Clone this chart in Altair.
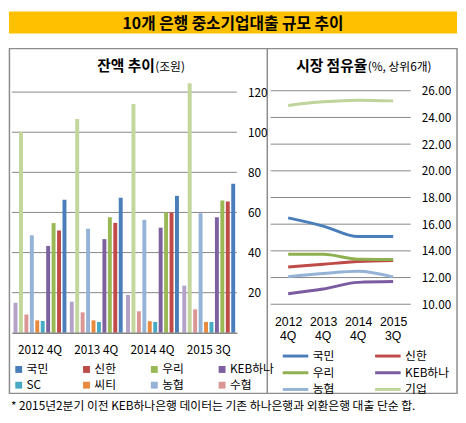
import altair as alt
import pandas as pd

# ---------------- data ----------------
periods = ["2012 4Q", "2013 4Q", "2014 4Q", "2015 3Q"]

# 잔액 추이 (조원)
kb = [66.3, 67.3, 68.3, 74.3]        # 국민
shinhan = [51.0, 54.8, 60.0, 65.4]   # 신한
woori = [54.7, 57.6, 60.0, 65.9]     # 우리
keb_hana = [43.3, 46.7, 52.4, 57.6]  # KEB하나
sc = [5.9, 5.4, 5.4, 5.4]            # SC
citi = [6.2, 6.2, 5.8, 5.4]          # 씨티
nh = [48.6, 51.9, 56.3, 59.6]        # 농협
suhyup = [9.1, 10.2, 10.7, 11.7]     # 수협
ibk = [100.2, 106.6, 114.1, 124.4]   # 기업
kdb = [15.0, 15.5, 18.9, 23.5]       # 산업

bar_banks = ["국민", "신한", "우리", "KEB하나", "SC", "씨티", "농협", "수협", "기업", "산업"]
bar_series = [kb, shinhan, woori, keb_hana, sc, citi, nh, suhyup, ibk, kdb]
bar_colors = ["#4A7EBB", "#BE4B48", "#98B954", "#7D60A0", "#46AAC5", "#E9893E",
              "#95B3D7", "#D99694", "#C3D69B", "#B3A2C7"]
legend_banks = bar_banks[:8]
bar_order = list(reversed(bar_banks))
bar_ticks = [20, 40, 60, 80, 100, 120]

# 시장 점유율 (%, 상위6개)
share_banks = ["국민", "신한", "우리", "KEB하나", "농협", "기업"]
kb_share = [16.47, 15.86, 15.07, 15.07]
shinhan_share = [12.79, 13.00, 13.20, 13.28]
woori_share = [13.74, 13.74, 13.37, 13.35]
hana_share = [10.79, 11.14, 11.64, 11.70]
nh_share = [12.07, 12.30, 12.47, 12.05]
ibk_share = [24.90, 25.17, 25.29, 25.24]
share_series = [kb_share, shinhan_share, woori_share, hana_share, nh_share, ibk_share]
share_colors = ["#4A7EBB", "#BE4B48", "#8FB050", "#7A5BA0", "#95B3D7", "#BFD49A"]
share_ticks = [10, 12, 14, 16, 18, 20, 22, 24, 26]

title_text = "10개 은행 중소기업대출 규모 추이"
footnote = "* 2015년2분기 이전 KEB하나은행 데이터는 기존 하나은행과 외환은행 대출 단순 합."

# ---------------- layout helpers ----------------
W, H = 458, 414
SX, SY = W / 466, H / 423
def X(v):
    return round(v * SX, 2)
def Y(v):
    return round(v * SY, 2)

FONT = "Noto Sans CJK KR"
NUMFONT = "Liberation Sans"
GRID = "#868686"

bar_df = pd.DataFrame([
    {"period": p, "bank": b, "value": s[i]}
    for b, s in zip(bar_banks, bar_series) for i, p in enumerate(periods)
])
share_df = pd.DataFrame([
    {"period": p, "bank": b, "share": s[i]}
    for b, s in zip(share_banks, share_series) for i, p in enumerate(periods)
])
period_df = pd.DataFrame({"period": periods})
one = pd.DataFrame({"k": [0]})

# ---------------- bar panel ----------------
bar_y_scale = alt.Scale(domain=[0, 120], range=[Y(334), Y(83.7)], nice=False, zero=True)
bar_y_axis = alt.Axis(orient="right", offset=X(237) - W, values=bar_ticks, domain=False,
                      ticks=False, tickSize=0, grid=False, labelPadding=X(248) - X(237),
                      labelFontSize=12, labelFont=FONT, labelColor="black", title=None,
                      labelOverlap=False, labelAlign="left", zindex=2)

bar_grid = alt.Chart(pd.DataFrame({"g": bar_ticks})).mark_rule(color=GRID, strokeWidth=1).encode(
    y=alt.Y("g:Q", scale=bar_y_scale, axis=bar_y_axis),
    x=alt.value(X(4)), x2=alt.value(X(237)),
)

bars = alt.Chart(bar_df).mark_bar().encode(
    x=alt.X("period:N", sort=periods,
            scale=alt.Scale(domain=periods, range=[X(4), X(237)], paddingInner=0.06, paddingOuter=0.03),
            axis=alt.Axis(orient="bottom", offset=Y(334) - H, domain=True, domainColor=GRID,
                          domainWidth=1.5, ticks=False, tickSize=0, grid=False, labelAngle=0,
                          labelPadding=Y(346) - Y(334), labelFontSize=12, labelFont=FONT,
                          labelColor="black", title=None, labelOverlap=False, zindex=2)),
    xOffset=alt.XOffset("bank:N", scale=alt.Scale(domain=bar_order, paddingInner=0.28)),
    y=alt.Y("value:Q", scale=bar_y_scale, axis=bar_y_axis),
    color=alt.Color("bank:N", scale=alt.Scale(domain=bar_banks, range=bar_colors),
                    legend=alt.Legend(values=legend_banks, orient="none", legendX=X(5), legendY=Y(366),
                                      direction="horizontal", columns=4, symbolType="square",
                                      symbolSize=49, symbolStrokeWidth=0, labelFontSize=12,
                                      labelFont=FONT, labelColor="black", labelOffset=2,
                                      columnPadding=32, rowPadding=4, title=None, padding=0)),
)
bar_panel = alt.layer(bar_grid, bars)

# ---------------- line panel ----------------
share_y_scale = alt.Scale(domain=[10, 26], range=[Y(304.3), Y(82.3)], nice=False, zero=False)
share_y_axis = alt.Axis(orient="right", offset=X(417) - W, values=share_ticks, format=".2f",
                        domain=False, ticks=False, tickSize=0, grid=False,
                        labelPadding=X(428) - X(417), labelFontSize=12, labelFont=FONT,
                        labelColor="black", title=None, labelOverlap=False, labelAlign="left",
                        zindex=2)
share_x_scale = alt.Scale(type="point", domain=periods, range=[X(272), X(417)], padding=0.5)
share_x_axis = alt.Axis(orient="bottom", offset=Y(307) - H, domain=False, ticks=False, tickSize=0,
                        grid=False, labelAngle=0, labelPadding=Y(316) - Y(307),
                        labelExpr="split(datum.label, ' ')[0]", labelFontSize=12.5,
                        labelFont=NUMFONT, labelColor="black", title=None,
                        labelOverlap=False, zindex=2)

share_grid = alt.Chart(pd.DataFrame({"g": share_ticks})).mark_rule(color=GRID, strokeWidth=1).encode(
    y=alt.Y("g:Q", scale=share_y_scale, axis=share_y_axis),
    x=alt.value(X(272)), x2=alt.value(X(417)),
)

lines = alt.Chart(share_df).mark_line(strokeWidth=3, interpolate="monotone").encode(
    x=alt.X("period:N", sort=periods, scale=share_x_scale, axis=share_x_axis),
    y=alt.Y("share:Q", scale=share_y_scale, axis=share_y_axis),
    color=alt.Color("bank:N", sort=share_banks,
                    scale=alt.Scale(domain=share_banks, range=share_colors),
                    legend=alt.Legend(orient="none", legendX=X(283) + 6.5, legendY=Y(373) - 22.5,
                                      direction="horizontal", columns=2,
                                      symbolType="M-2,0H2", symbolSize=169,
                                      symbolStrokeWidth=3, labelFontSize=12, labelFont=FONT,
                                      labelColor="black", labelOffset=9.5, columnPadding=35,
                                      rowPadding=3, title=None, padding=0)),
    detail="bank:N",
)

quarter_labels = alt.Chart(period_df).transform_calculate(
    q="split(datum.period, ' ')[1]"
).mark_text(fontSize=12.5, font=NUMFONT, color="black", baseline="middle", align="center").encode(
    x=alt.X("period:N", sort=periods, scale=share_x_scale, axis=share_x_axis),
    y=alt.value(Y(337.5)),
    text="q:N",
)
line_panel = alt.layer(share_grid, lines, quarter_labels)

# ---------------- decorations ----------------
title_bar = alt.Chart(one).mark_rect(color="#FFC000").encode(
    x=alt.value(X(1)), x2=alt.value(X(465)), y=alt.value(0), y2=alt.value(Y(22.7)))
title = alt.Chart(one).mark_text(fontSize=16, fontWeight="bold", font=FONT, color="black",
                                 align="center", baseline="middle").encode(
    x=alt.value(X(233)), y=alt.value(Y(12.5)), text=alt.value(title_text))
box = alt.Chart(one).mark_rect(fillOpacity=0, stroke="#8C8C8C", strokeWidth=1.5).encode(
    x=alt.value(X(1.5)), x2=alt.value(X(465)), y=alt.value(Y(38.5)), y2=alt.value(Y(397)))
divider = alt.Chart(one).mark_rule(color="#8C8C8C", strokeWidth=1.5).encode(
    x=alt.value(X(268.5)), y=alt.value(Y(38.5)), y2=alt.value(Y(397)))

t1a = alt.Chart(one).mark_text(fontSize=15, fontWeight="bold", font=FONT, color="black",
                               align="right", baseline="middle").encode(
    x=alt.value(X(152)), y=alt.value(Y(57)), text=alt.value("잔액 추이"))
t1b = alt.Chart(one).mark_text(fontSize=12, font=FONT, color="black",
                               align="left", baseline="middle").encode(
    x=alt.value(X(152.5)), y=alt.value(Y(58)), text=alt.value("(조원)"))
t2a = alt.Chart(one).mark_text(fontSize=15, fontWeight="bold", font=FONT, color="black",
                               align="right", baseline="middle").encode(
    x=alt.value(X(372)), y=alt.value(Y(57)), text=alt.value("시장 점유율"))
t2b = alt.Chart(one).mark_text(fontSize=12, font=FONT, color="black",
                               align="left", baseline="middle").encode(
    x=alt.value(X(372.5)), y=alt.value(Y(58)), text=alt.value("(%, 상위6개)"))
foot = alt.Chart(one).mark_text(fontSize=12, font=FONT, color="black",
                                align="left", baseline="middle").encode(
    x=alt.value(X(3)), y=alt.value(Y(410)), text=alt.value(footnote))

chart = alt.layer(
    box, divider, title_bar, title, t1a, t1b, t2a, t2b, foot, bar_panel, line_panel
).resolve_scale(
    x="independent", y="independent", color="independent"
).resolve_legend(color="independent").properties(
    width=W, height=H, autosize=alt.AutoSizeParams(type="none"), padding=0, background="white"
).configure_view(stroke=None)

chart.save("out.html", embed_options={"renderer": "svg", "actions": False})
